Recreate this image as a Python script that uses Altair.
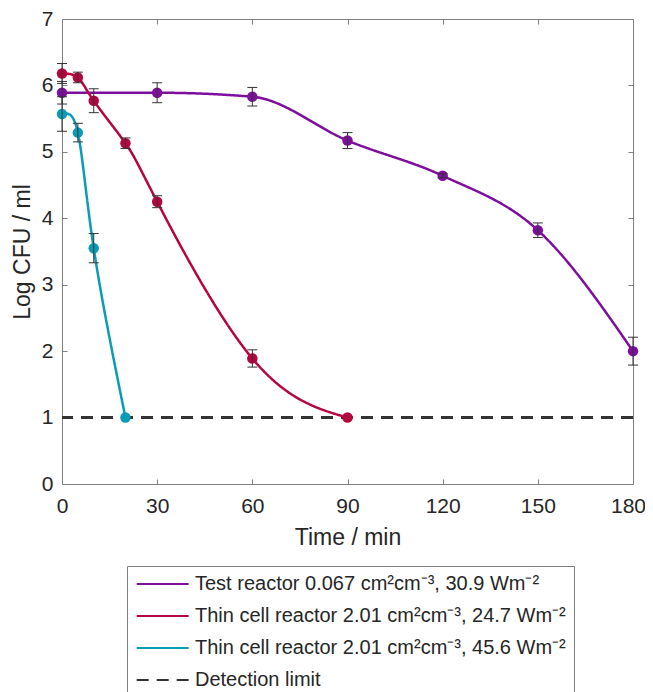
import altair as alt
import pandas as pd

# ---------------- data ----------------
series_names = [
    "Test reactor 0.067 cm²cm⁻³, 30.9 Wm⁻²",
    "Thin cell reactor 2.01 cm²cm⁻³, 24.7 Wm⁻²",
    "Thin cell reactor 2.01 cm²cm⁻³, 45.6 Wm⁻²",
    "Detection limit",
]
series_colors = ["#7e0f9c", "#b5053f", "#0a9cb6", "#333333"]
series_dashes = [[1, 0], [1, 0], [1, 0], [12, 8]]

time_test = [0, 30, 60, 90, 120, 150, 180]
logcfu_test = [5.89, 5.89, 5.83, 5.17, 4.64, 3.82, 2.00]
err_test = [0.17, 0.15, 0.14, 0.12, 0.03, 0.11, 0.21]

time_thin_247 = [0, 5, 10, 20, 30, 60, 90]
logcfu_thin_247 = [6.18, 6.12, 5.77, 5.13, 4.25, 1.89, 1.00]
err_thin_247 = [0.15, 0.08, 0.18, 0.08, 0.09, 0.13, 0.0]

time_thin_456 = [0, 5, 10, 20]
logcfu_thin_456 = [5.57, 5.29, 3.55, 1.00]
err_thin_456 = [0.26, 0.14, 0.22, 0.0]

detection_limit = [1.0]

x_ticks = [0, 30, 60, 90, 120, 150, 180]
y_ticks = [0, 1, 2, 3, 4, 5, 6, 7]

# ---------------- tables ----------------
rows = []
for name, ts, vs, es in [
    (series_names[0], time_test, logcfu_test, err_test),
    (series_names[1], time_thin_247, logcfu_thin_247, err_thin_247),
    (series_names[2], time_thin_456, logcfu_thin_456, err_thin_456),
]:
    for t, v, e in zip(ts, vs, es):
        rows.append({"series": name, "time": t, "logcfu": v, "err": e,
                     "lo": v - e, "hi": v + e})
df = pd.DataFrame(rows)
df_err = df[df["err"] > 0]
df_test = df[df["series"] == series_names[0]]
df_thin = df[df["series"] != series_names[0]]
df_det = pd.DataFrame({"series": [series_names[3]], "logcfu": detection_limit})

W, H = 571, 465
text_color = "#262626"
frame_color = "#808080"

x_enc = alt.X(
    "time:Q",
    scale=alt.Scale(domain=[0, 180], nice=False),
    axis=alt.Axis(
        values=x_ticks, title="Time / min", grid=True, gridDash=[5, H - 10],
        gridColor=frame_color, gridOpacity=1, ticks=False, domain=False,
        labelFontSize=21, titleFontSize=23, labelPadding=11, titlePadding=10,
        titleFontWeight="normal", labelColor=text_color, titleColor=text_color,
        labelFlush=False,
        labelOffset={"condition": {"test": "datum.value == 180", "value": -5},
                     "value": 0},
    ),
)
y_scale = alt.Scale(domain=[0, 7], nice=False)
y_axis = alt.Axis(
    values=y_ticks, title="Log CFU / ml", grid=True, gridDash=[5, W - 10],
    gridColor=frame_color, gridOpacity=1, ticks=False, domain=False,
    labelFontSize=21, titleFontSize=23, labelPadding=9, titlePadding=7,
    titleFontWeight="normal", labelColor=text_color, titleColor=text_color,
)

legend = alt.Legend(
    title=None, orient="none", legendX=65, legendY=547,
    symbolType="M-1.6,0H8.4", symbolSize=108, symbolStrokeWidth=2,
    labelFontSize=20, labelLimit=600, rowPadding=12, padding=8,
    strokeColor=frame_color, fillColor="white", labelOffset=40,
    labelColor=text_color, direction="vertical",
)
color_enc = alt.Color("series:N",
                      scale=alt.Scale(domain=series_names, range=series_colors),
                      legend=legend)
dash_enc = alt.StrokeDash("series:N",
                          scale=alt.Scale(domain=series_names, range=series_dashes),
                          legend=legend)
y_enc = alt.Y("logcfu:Q", scale=y_scale, axis=y_axis)

det = alt.Chart(df_det).mark_rule(strokeWidth=3).encode(
    y=y_enc, color=color_enc, strokeDash=dash_enc,
)
line_test = alt.Chart(df_test).mark_line(interpolate="monotone", strokeWidth=2.5).encode(
    x=x_enc, y=y_enc, color=color_enc, strokeDash=dash_enc, detail="series:N",
)
line_thin = alt.Chart(df_thin).mark_line(interpolate="natural", strokeWidth=2.5).encode(
    x=x_enc, y=y_enc, color=color_enc, strokeDash=dash_enc, detail="series:N",
)
points = alt.Chart(df).mark_circle(size=110, opacity=1).encode(
    x=x_enc, y=y_enc, color=color_enc,
)
bars = alt.Chart(df_err).mark_rule(color="#333333", strokeWidth=1).encode(
    x=x_enc, y=alt.Y("lo:Q", scale=y_scale, axis=y_axis), y2="hi:Q",
)
caps_lo = alt.Chart(df_err).mark_tick(orient="horizontal", size=10, thickness=1,
                                      color="#333333", opacity=1).encode(
    x=x_enc, y=alt.Y("lo:Q", scale=y_scale, axis=y_axis),
)
caps_hi = alt.Chart(df_err).mark_tick(orient="horizontal", size=10, thickness=1,
                                      color="#333333", opacity=1).encode(
    x=x_enc, y=alt.Y("hi:Q", scale=y_scale, axis=y_axis),
)

chart = alt.layer(det, line_test, line_thin, points, bars, caps_lo, caps_hi).properties(
    width=W, height=H,
    autosize=alt.AutoSizeParams(type="none"),
    padding={"left": 54, "top": 11, "right": 12, "bottom": 230},
).configure(font="Liberation Sans").configure_view(
    stroke=frame_color, strokeWidth=1
)

chart.save("out.html", embed_options={"renderer": "svg", "actions": False})
